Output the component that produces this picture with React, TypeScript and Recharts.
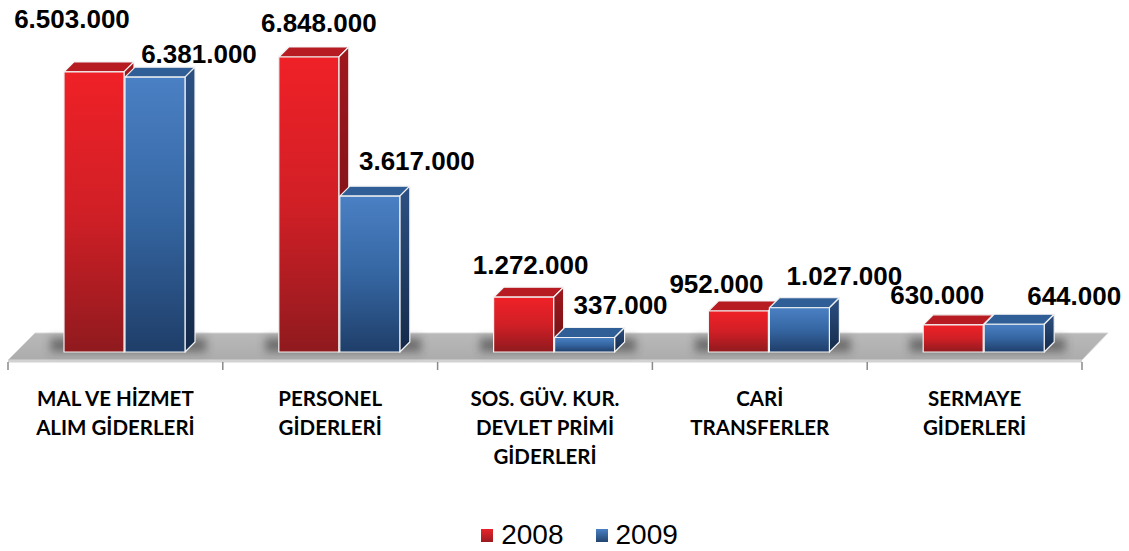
import React from "react"
import { BarChart, Bar, XAxis, YAxis, Legend, LabelList } from "recharts"

const CATEGORIES = [
  "MAL VE HİZMET\nALIM GİDERLERİ",
  "PERSONEL\nGİDERLERİ",
  "SOS. GÜV. KUR.\nDEVLET PRİMİ\nGİDERLERİ",
  "CARİ\nTRANSFERLER",
  "SERMAYE\nGİDERLERİ",
]
const VALUES_2008 = [6503000, 6848000, 1272000, 952000, 630000]
const VALUES_2009 = [6381000, 3617000, 337000, 1027000, 644000]
const SERIES = ["2008", "2009"]
const Y_MAX = 8000000

// label nudges (px) from the top centre of each bar's front face
const NUDGE_2008 = [[-22, -53], [10, -34], [7, -33], [-22, -27], [-16, -30]]
const NUDGE_2009 = [[44, -23], [47, -35], [36, -33], [45, -32], [60, -29]]

const W = 1129
const H = 551
const MARGIN = { top: 7.4, right: 47, bottom: 79, left: 8 }
const X_AXIS_H = 120
const SHIFT = 9 // bars stand halfway back on the floor
const DEPTH = 10

const COLORS = {
  red: { front: "url(#redFront)", top: "#b71c22", side: "url(#redSide)" },
  blue: { front: "url(#blueFront)", top: "#305e96", side: "url(#blueSide)" },
}

const data = CATEGORIES.map((name, i) => ({
  name,
  y2008: VALUES_2008[i],
  y2009: VALUES_2009[i],
}))

const fmt = (v: number) => String(v).replace(/\B(?=(\d{3})+(?!\d))/g, ".")

function Floor() {
  const left = MARGIN.left
  const right = W - MARGIN.right
  const base = H - MARGIN.bottom - X_AXIS_H
  const front = base + 8
  const back = base - 19
  const band = (right - left) / CATEGORIES.length
  return (
    <g>
      <defs>
        <linearGradient id="redFront" x1="0" y1="0" x2="0" y2="1">
          <stop offset="0" stopColor="#ef2127" />
          <stop offset="0.5" stopColor="#d11f26" />
          <stop offset="1" stopColor="#8f1a1e" />
        </linearGradient>
        <linearGradient id="blueFront" x1="0" y1="0" x2="0" y2="1">
          <stop offset="0" stopColor="#4a80c4" />
          <stop offset="0.5" stopColor="#3566a2" />
          <stop offset="1" stopColor="#1f3e69" />
        </linearGradient>
        <linearGradient id="redSide" x1="0" y1="0" x2="0" y2="1">
          <stop offset="0" stopColor="#a0181e" />
          <stop offset="1" stopColor="#6c1014" />
        </linearGradient>
        <linearGradient id="blueSide" x1="0" y1="0" x2="0" y2="1">
          <stop offset="0" stopColor="#2c5183" />
          <stop offset="1" stopColor="#152a4a" />
        </linearGradient>
        <linearGradient id="floorTop" x1="0" y1="0" x2="0" y2="1">
          <stop offset="0" stopColor="#b9b9b9" />
          <stop offset="1" stopColor="#acacac" />
        </linearGradient>
        <filter id="soft" x="-30%" y="-100%" width="160%" height="300%">
          <feGaussianBlur stdDeviation="4" />
        </filter>
      </defs>
      <polygon
        points={`${left},${front} ${left + 27},${back} ${right + 26},${back} ${right},${front}`}
        fill="url(#floorTop)"
        stroke="#d8d8d8"
        strokeWidth={1}
      />
      <rect x={left} y={front} width={right - left} height={2.5} fill="#d2d2d2" />
      {CATEGORIES.map((_, i) => {
        const c = left + band * (i + 0.5) + SHIFT
        return (
          <rect
            key={`sh-${i}`}
            x={c - 74}
            y={base - 14}
            width={156}
            height={14}
            fill="#2b2b2b"
            opacity={0.5}
            filter="url(#soft)"
          />
        )
      })}
      {CATEGORIES.concat([""]).map((_, i) => (
        <line
          key={`tk-${i}`}
          x1={left + band * i}
          x2={left + band * i}
          y1={front + 2}
          y2={front + 10}
          stroke="#8a8a8a"
          strokeWidth={1.5}
        />
      ))}
    </g>
  )
}

function Box3D(props: any) {
  const { x, y, width, height, tone } = props
  if (!height || height <= 0) return null
  const c = COLORS[tone as "red" | "blue"]
  const fx = x + SHIFT
  const d = DEPTH
  const edge = { stroke: "#f2f2f2", strokeWidth: 1.2, strokeLinejoin: "round" as const }
  return (
    <g>
      <polygon
        points={`${fx},${y} ${fx + d},${y - d} ${fx + width + d},${y - d} ${fx + width},${y}`}
        fill={c.top}
        {...edge}
      />
      <polygon
        points={`${fx + width},${y} ${fx + width + d},${y - d} ${fx + width + d},${y + height - d} ${fx + width},${y + height}`}
        fill={c.side}
        {...edge}
      />
      <rect x={fx} y={y} width={width} height={height} fill={c.front} {...edge} />
    </g>
  )
}

function CategoryTick({ x, y, payload }: any) {
  const lines = String(payload.value).split("\n")
  return (
    <text
      textAnchor="middle"
      fontFamily="Lato"
      fontWeight={700}
      fontSize={20.5}
      fill="#000"
    >
      {lines.map((l, i) => (
        <tspan key={i} x={x} y={y + 54 + i * 29}>
          {l}
        </tspan>
      ))}
    </text>
  )
}

const valueLabel = (nudges: number[][]) => (p: any) => {
  const vb = p.viewBox ?? p
  const [dx, dy] = nudges[p.index] ?? [0, -30]
  return (
    <text
      x={vb.x + SHIFT + vb.width / 2 + dx}
      y={vb.y + dy + 9.3}
      textAnchor="middle"
      fontFamily="Liberation Sans, Arial"
      fontWeight={700}
      fontSize={26}
      fill="#000"
    >
      {fmt(Number(p.value))}
    </text>
  )
}

function LegendBox() {
  const swatch = (fill: string) => (
    <span style={{ display: "inline-block", width: 12, height: 13, background: fill, marginRight: 8 }} />
  )
  return (
    <div
      style={{
        display: "flex",
        justifyContent: "center",
        alignItems: "center",
        fontFamily: "Liberation Sans, Arial",
        fontSize: 28,
        lineHeight: "28px",
        color: "#000",
      }}
    >
      <span style={{ display: "flex", alignItems: "center" }}>
        {swatch("linear-gradient(#e8232a, #9a1b20)")}
        {SERIES[0]}
      </span>
      <span style={{ display: "flex", alignItems: "center", marginLeft: 32 }}>
        {swatch("linear-gradient(#4a80c4, #23456f)")}
        {SERIES[1]}
      </span>
    </div>
  )
}

export default function App() {
  return (
    <div style={{ position: "absolute", left: 0, top: 0, width: W, height: H, background: "#fff" }}>
      <BarChart width={W} height={H} data={data} margin={MARGIN} barGap={1}>
        <Floor />
        <XAxis
          dataKey="name"
          height={X_AXIS_H}
          axisLine={false}
          tickLine={false}
          tickSize={0}
          tickMargin={0}
          interval={0}
          tick={<CategoryTick />}
        />
        <YAxis hide domain={[0, Y_MAX]} />
        <Legend
          layout="horizontal"
          verticalAlign="middle"
          align="center"
          wrapperStyle={{ top: 521, left: 15, width: W }}
          content={() => <LegendBox />}
        />
        <Bar
          dataKey="y2008"
          name={SERIES[0]}
          barSize={60}
          isAnimationActive={false}
          shape={(p: any) => <Box3D {...p} tone="red" />}
        >
          <LabelList dataKey="y2008" content={valueLabel(NUDGE_2008)} />
        </Bar>
        <Bar
          dataKey="y2009"
          name={SERIES[1]}
          barSize={60}
          isAnimationActive={false}
          shape={(p: any) => <Box3D {...p} tone="blue" />}
        >
          <LabelList dataKey="y2009" content={valueLabel(NUDGE_2009)} />
        </Bar>
      </BarChart>
    </div>
  )
}
